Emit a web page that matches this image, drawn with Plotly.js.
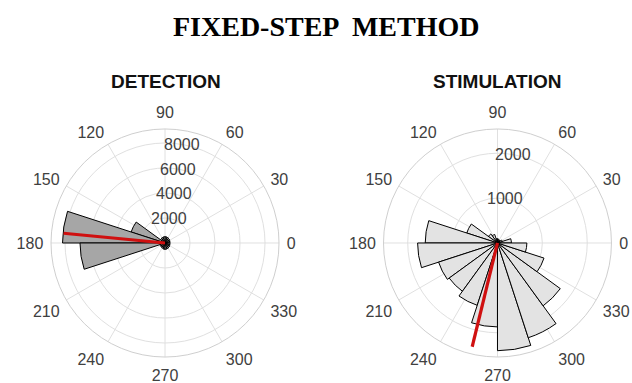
<!DOCTYPE html>
<html>
<head>
<meta charset="utf-8">
<script src="https://cdn.plot.ly/plotly-3.0.1.min.js"></script>
<style>html,body{margin:0;padding:0;background:#fff;}#plot{width:632px;height:383px;}</style>
</head>
<body>
<div id="plot"></div>
<script>
// Bin centres (degrees), 18-degree bins
const binCenters = [9,27,45,63,81,99,117,135,153,171,189,207,225,243,261,279,297,315,333,351];
const binWidth = 18;
// Counts per bin
const detectionCounts = [400,420,450,480,500,500,480,450,2850,8200,6800,420,420,450,500,500,480,450,420,400];
const stimulationCounts = [310,110,80,70,90,100,200,250,720,1610,1780,1380,1330,1460,1870,2400,2220,1730,1090,655];
// Mean direction vectors [angle, length]
const detectionMeanAngle = 174.5, detectionMeanLength = 8150;
const stimulationMeanAngle = 256.3, stimulationMeanLength = 2380;
// Axis ticks
const angleTicks = [0,30,60,90,120,150,180,210,240,270,300,330];
const angleTickText = angleTicks.map(String);
const detectionRTicks = [2000,4000,6000,8000];
const stimulationRTicks = [1000,2000];
const detectionRMax = 9120, stimulationRMax = 2540;
const rLabelAngle = 80;

const W = 632, H = 383;
const tickFont = {family: 'Liberation Sans, Arial, sans-serif', size: 16, color: '#404040'};

const dom1 = {x: [0.0807, 0.4415], y: [0.0679, 0.6632]};
const dom2 = {x: [0.6068, 0.9675], y: [0.0679, 0.6632]};

function polarCfg(dom, rTicks, rMax) {
  return {
    domain: dom,
    bgcolor: '#ffffff',
    angularaxis: {
      direction: 'counterclockwise', rotation: 0,
      tickmode: 'array', tickvals: angleTicks, ticktext: angleTickText,
      ticks: 'outside', ticklen: 4, tickcolor: 'rgba(0,0,0,0)',
      showline: true, linecolor: '#cfcfcf', linewidth: 1,
      gridcolor: '#e0e0e0', gridwidth: 1, tickfont: tickFont
    },
    radialaxis: {
      range: [0, rMax], angle: rLabelAngle,
      tickmode: 'array', tickvals: rTicks, showticklabels: false,
      showline: false, ticks: '', gridcolor: '#e0e0e0', gridwidth: 1
    }
  };
}

// radial tick labels centred on the rings at the label angle
function rLabels(dom, rTicks, rMax) {
  const cx = (dom.x[0] + dom.x[1]) / 2 * W;
  const cy = (1 - (dom.y[0] + dom.y[1]) / 2) * H;
  const R = (dom.x[1] - dom.x[0]) * W / 2;
  const a = rLabelAngle * Math.PI / 180;
  return rTicks.map(v => {
    const d = v / rMax * R;
    return {text: String(v), xref: 'paper', yref: 'paper', showarrow: false,
      x: (cx + d * Math.cos(a)) / W, y: 1 - (cy - d * Math.sin(a)) / H,
      xanchor: 'center', yanchor: 'middle', font: tickFont};
  });
}

const data = [
  {type: 'barpolar', r: detectionCounts, theta: binCenters, width: binCenters.map(() => binWidth),
   marker: {color: '#a6a6a6', line: {color: '#000000', width: 1}}, subplot: 'polar', showlegend: false, hoverinfo: 'none'},
  {type: 'scatterpolar', mode: 'lines', r: [0, detectionMeanLength], theta: [detectionMeanAngle, detectionMeanAngle],
   line: {color: '#d01010', width: 3.2}, subplot: 'polar', showlegend: false, hoverinfo: 'none'},
  {type: 'barpolar', r: stimulationCounts, theta: binCenters, width: binCenters.map(() => binWidth),
   marker: {color: '#e3e3e3', line: {color: '#000000', width: 1}}, subplot: 'polar2', showlegend: false, hoverinfo: 'none'},
  {type: 'scatterpolar', mode: 'lines', r: [0, stimulationMeanLength], theta: [stimulationMeanAngle, stimulationMeanAngle],
   line: {color: '#d01010', width: 3.2}, subplot: 'polar2', showlegend: false, hoverinfo: 'none'}
];

const layout = {
  width: W, height: H,
  margin: {l: 0, r: 0, t: 0, b: 0},
  paper_bgcolor: '#ffffff',
  polar: polarCfg(dom1, detectionRTicks, detectionRMax),
  polar2: polarCfg(dom2, stimulationRTicks, stimulationRMax),
  annotations: [
    {text: '<b>FIXED-STEP  METHOD</b>', x: 326/W, y: 1 - 26/H, xref: 'paper', yref: 'paper', showarrow: false,
     xanchor: 'center', yanchor: 'middle', font: {family: 'Liberation Serif, Times New Roman, serif', size: 28, color: '#000'}},
    {text: '<b>DETECTION</b>', x: 166/W, y: 1 - 81/H, xref: 'paper', yref: 'paper', showarrow: false,
     xanchor: 'center', yanchor: 'middle', font: {family: 'Liberation Sans, Arial, sans-serif', size: 19, color: '#111'}},
    {text: '<b>STIMULATION</b>', x: 497/W, y: 1 - 81/H, xref: 'paper', yref: 'paper', showarrow: false,
     xanchor: 'center', yanchor: 'middle', font: {family: 'Liberation Sans, Arial, sans-serif', size: 19, color: '#111'}}
  ].concat(rLabels(dom1, detectionRTicks, detectionRMax), rLabels(dom2, stimulationRTicks, stimulationRMax))
};

Plotly.newPlot('plot', data, layout, {staticPlot: true, displayModeBar: false});
</script>
</body>
</html>
